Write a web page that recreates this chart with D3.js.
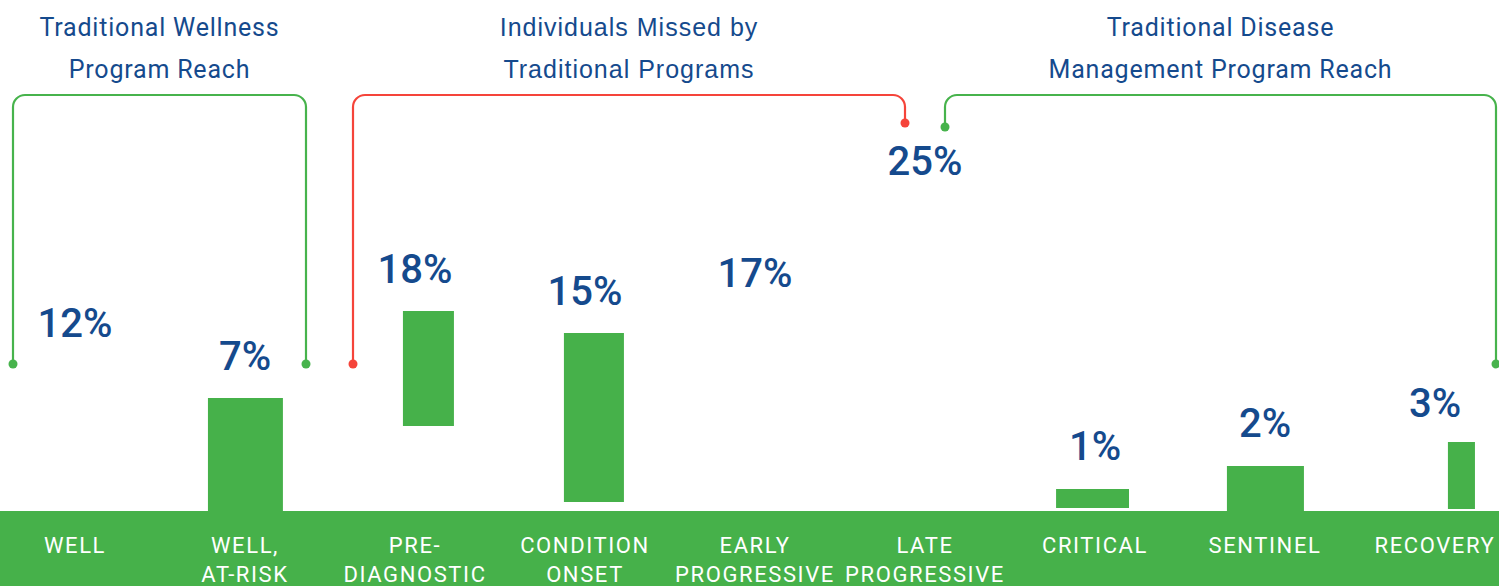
<!DOCTYPE html>
<html>
<head>
<meta charset="utf-8">
<script src="https://cdn.jsdelivr.net/npm/d3@7"></script>
<style>
  html, body { margin: 0; padding: 0; background: #fff; }
  svg { display: block; }
</style>
</head>
<body>
<div id="chart"></div>
<script>
// stages along the bottom band
var categories = ["WELL", "WELL, AT-RISK", "PRE-DIAGNOSTIC", "CONDITION ONSET", "EARLY PROGRESSIVE",
                  "LATE PROGRESSIVE", "CRITICAL", "SENTINEL", "RECOVERY"];
var categoryLines = [["WELL"], ["WELL,", "AT-RISK"], ["PRE-", "DIAGNOSTIC"], ["CONDITION", "ONSET"],
                     ["EARLY", "PROGRESSIVE"], ["LATE", "PROGRESSIVE"], ["CRITICAL"], ["SENTINEL"], ["RECOVERY"]];
var shares = [12, 7, 18, 15, 17, 25, 1, 2, 3];

// bar extents (chart units, 0 = top of band); null = no bar drawn
var barLow  = [null, 0,    1.7, 0.18, null, null, 0.06, 0,   0.04];
var barHigh = [null, 2.26, 4.0, 3.56, null, null, 0.44, 0.9, 1.38];
// where each bar sits inside its stage (fraction of the stage)
var barStart = [0, 0.282, 0.429, 0.376, 0, 0, 0.271, 0.276, 0.576];
var barSpan  = [0, 0.441, 0.300, 0.353, 0, 0, 0.429, 0.453, 0.159];
// level of each percentage label
var labelLevel = [3.48, 2.82, 4.56, 4.12, 4.48, 6.72, 1.02, 1.48, 1.88];

// program groups (brackets)
var groupTitles = [["Traditional Wellness", "Program Reach"],
                   ["Individuals Missed by", "Traditional Programs"],
                   ["Traditional Disease", "Management Program Reach"]];
var groupFrom = [0, 2, 5];
var groupTo   = [1, 5, 8];
var groupLeftEnd  = [2.94, 2.94, 7.68];
var groupRightEnd = [2.94, 7.76, 2.94];
var groupColors = ["#47b34c", "#f5443a", "#47b34c"];

var width = 1499, height = 586;
var green = "#46b14a", blue = "#154a8d";
var bandTop = 511;

var svg = d3.select("#chart").append("svg")
    .attr("width", width)
    .attr("height", height);

var x = d3.scaleBand().domain(categories).range([-10, 1520]).padding(0);
var y = d3.scaleLinear().domain([0, 10]).range([bandTop, bandTop - 500]);
var step = x.bandwidth();

// bottom band
svg.append("rect")
    .attr("x", 0).attr("y", bandTop)
    .attr("width", width).attr("height", height - bandTop)
    .attr("fill", green);

// bars
var barData = categories.map(function(c, i) { return {c: c, i: i}; })
    .filter(function(d) { return barHigh[d.i] !== null; });

svg.selectAll("rect.bar")
    .data(barData)
    .enter()
    .append("rect")
    .attr("class", "bar")
    .attr("x", function(d) { return x(d.c) + barStart[d.i] * step; })
    .attr("width", function(d) { return barSpan[d.i] * step; })
    .attr("y", function(d) { return y(barHigh[d.i]); })
    .attr("height", function(d) { return y(barLow[d.i]) - y(barHigh[d.i]); })
    .attr("fill", green);

// percentage labels
svg.selectAll("text.pct")
    .data(categories)
    .enter()
    .append("text")
    .attr("class", "pct")
    .attr("x", function(d) { return x(d) + step / 2; })
    .attr("y", function(d, i) { return y(labelLevel[i]); })
    .attr("text-anchor", "middle")
    .attr("fill", blue)
    .style("font-family", "Roboto, sans-serif")
    .style("font-size", "40px")
    .style("font-weight", 500)
    .text(function(d, i) { return shares[i] + "%"; });

// stage names in the band
var catText = svg.selectAll("text.cat")
    .data(categories)
    .enter()
    .append("text")
    .attr("class", "cat")
    .attr("text-anchor", "middle")
    .attr("fill", "#fff")
    .style("font-family", "Roboto, sans-serif")
    .style("font-size", "22px")
    .style("font-weight", 400)
    .style("letter-spacing", "1.6px");

catText.selectAll("tspan")
    .data(function(d, i) { return categoryLines[i].map(function(t) { return {t: t, c: d}; }); })
    .enter()
    .append("tspan")
    .attr("x", function(d) { return x(d.c) + step / 2; })
    .attr("y", function(d, j) { return 553 + j * 29; })
    .text(function(d) { return d.t; });

// brackets
var topLevel = 8.32, r = 12;
for (var g = 0; g < groupTitles.length; g++) {
    var left = g === 0 || g === 1 ? x(categories[groupFrom[g]]) + 23 : x(categories[groupFrom[g]]) + step / 2 + 20;
    var right = g === 1 ? x(categories[groupTo[g]]) + step / 2 - 20 : x(categories[groupTo[g]]) + step - 24;
    var yl = y(groupLeftEnd[g]), yr = y(groupRightEnd[g]), yt = y(topLevel);

    var p = d3.path();
    p.moveTo(left, yl);
    p.lineTo(left, yt + r);
    p.arcTo(left, yt, left + r, yt, r);
    p.lineTo(right - r, yt);
    p.arcTo(right, yt, right, yt + r, r);
    p.lineTo(right, yr);

    svg.append("path")
        .attr("d", p.toString())
        .attr("fill", "none")
        .attr("stroke", groupColors[g])
        .attr("stroke-width", 2.2);

    svg.selectAll(null)
        .data([[left, yl], [right, yr]])
        .enter()
        .append("circle")
        .attr("cx", function(d) { return d[0]; })
        .attr("cy", function(d) { return d[1]; })
        .attr("r", 4.5)
        .attr("fill", groupColors[g]);

    svg.append("text")
        .attr("text-anchor", "middle")
        .attr("fill", blue)
        .style("font-family", g === 1 ? "'Liberation Sans', Arial, sans-serif" : "Roboto, sans-serif")
        .style("font-size", "25px")
        .style("letter-spacing", g === 1 ? "1px" : "0.8px")
        .selectAll("tspan")
        .data(groupTitles[g])
        .enter()
        .append("tspan")
        .attr("x", (left + right) / 2)
        .attr("y", function(d, j) { return 36 + j * 42; })
        .text(function(d) { return d; });
}
</script>
</body>
</html>
